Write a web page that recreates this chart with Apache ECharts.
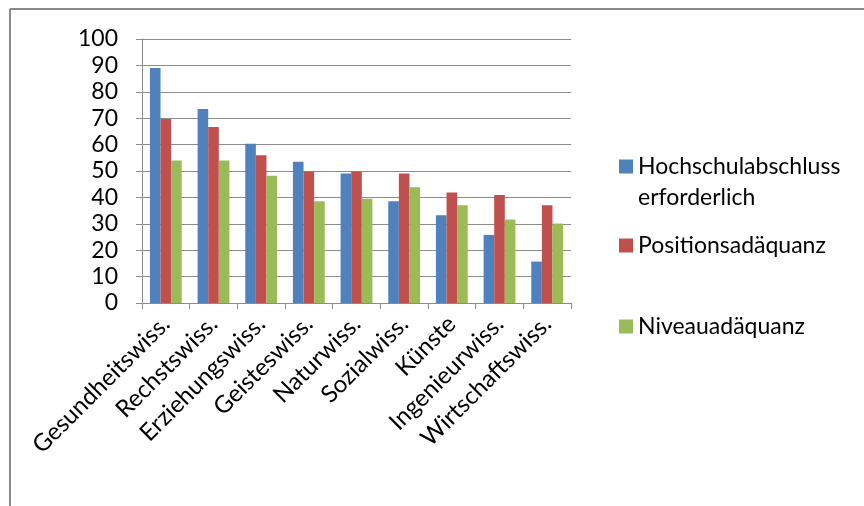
<!DOCTYPE html>
<html>
<head>
<meta charset="utf-8">
<script src="https://cdn.jsdelivr.net/npm/echarts@6/dist/echarts.min.js"></script>
<style>html,body{margin:0;padding:0;background:#fff}#c{width:864px;height:506px}</style>
</head>
<body>
<div id="c"></div>
<script>
var categories = ['Gesundheitswiss.', 'Rechstswiss.', 'Erziehungswiss.', 'Geisteswiss.', 'Naturwiss.', 'Sozialwiss.', 'Künste', 'Ingenieurwiss.', 'Wirtschaftswiss.'];
var seriesNames = ['Hochschulabschluss erforderlich', 'Positionsadäquanz', 'Niveauadäquanz'];
var hochschulabschluss = [89, 73.5, 60.3, 53.5, 49.1, 38.5, 33.2, 25.8, 15.7];
var positionsadaequanz = [69.7, 66.7, 56, 49.8, 49.8, 49.1, 41.9, 40.9, 37];
var niveauadaequanz = [54, 54, 48.2, 38.5, 39.5, 43.8, 37, 31.6, 30.1];
var yTicks = [0, 100, 10];

var colors = ['#4F81BD', '#C0504D', '#9BBB59'];
var font = 'Lato, "Open Sans", sans-serif';
var chart = echarts.init(document.getElementById('c'));

function legendFor(i, top, extra) {
  return Object.assign({
    data: [seriesNames[i]],
    left: 614, top: top,
    orient: 'vertical',
    icon: 'rect', itemWidth: 14, itemHeight: 14, itemGap: 0,
    selectedMode: false,
    textStyle: { fontFamily: font, fontSize: 23, color: '#000', lineHeight: 31 }
  }, extra || {});
}

chart.setOption({
  animation: false,
  color: colors,
  grid: { left: 142, right: 293, top: 39, bottom: 203, containLabel: false },
  legend: [
    legendFor(0, 115, {
      formatter: function (n) { return '\u00a0\n' + n.replace(' ', '\n'); }
    }),
    legendFor(1, 225),
    legendFor(2, 306)
  ],
  graphic: [
    { type: 'line', shape: { x1: 10, y1: 9, x2: 864, y2: 9 }, style: { stroke: '#8a8a8a', lineWidth: 2 } },
    { type: 'line', shape: { x1: 10, y1: 9, x2: 10, y2: 506 }, style: { stroke: '#8a8a8a', lineWidth: 2 } }
  ],
  xAxis: {
    type: 'category',
    data: categories,
    axisLine: { lineStyle: { color: '#8c8c8c', width: 1 } },
    axisTick: { show: true, length: 6, lineStyle: { color: '#8c8c8c' } },
    axisLabel: { rotate: 45, interval: 0, fontFamily: font, fontSize: 24, color: '#000', margin: 17 }
  },
  yAxis: {
    type: 'value',
    min: yTicks[0], max: yTicks[1], interval: yTicks[2],
    axisLine: { show: true, lineStyle: { color: '#8c8c8c', width: 1 } },
    axisTick: { show: true, length: 6, lineStyle: { color: '#8c8c8c' } },
    splitLine: { lineStyle: { color: '#8c8c8c', width: 1 } },
    axisLabel: { fontFamily: font, fontSize: 23, color: '#000', margin: 24 }
  },
  series: [
    { name: seriesNames[0], type: 'bar', data: hochschulabschluss, barWidth: 10.6, barGap: '0%' },
    { name: seriesNames[1], type: 'bar', data: positionsadaequanz, barWidth: 10.6, barGap: '0%' },
    { name: seriesNames[2], type: 'bar', data: niveauadaequanz, barWidth: 10.6, barGap: '0%' }
  ]
});
</script>
</body>
</html>
